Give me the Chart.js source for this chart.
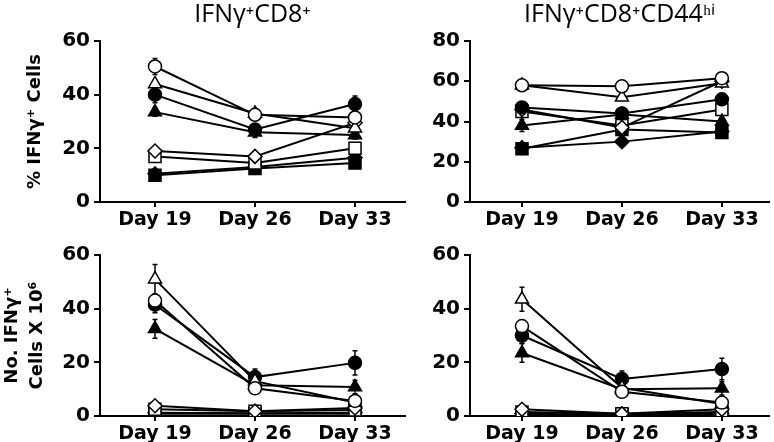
<!DOCTYPE html>
<html>
<head>
<meta charset="utf-8">
<script src="https://cdn.jsdelivr.net/npm/chart.js@4/dist/chart.umd.min.js"></script>
<style>
  body { margin: 0; background: #fff; width: 774px; height: 442px; position: relative; overflow: hidden; }
  canvas { position: absolute; }
</style>
</head>
<body>
<canvas id="pctCd8" width="415" height="230" style="left:0;top:0"></canvas>
<canvas id="pctCd44" width="369" height="230" style="left:410px;top:0"></canvas>
<canvas id="numCd8" width="415" height="212" style="left:0;top:230px"></canvas>
<canvas id="numCd44" width="369" height="212" style="left:410px;top:230px"></canvas>
<script>
const days = ['Day 19', 'Day 26', 'Day 33'];
const dayNumbers = [19, 26, 33];

// series order: open circle, open triangle, filled circle, filled triangle,
// open diamond, open square, filled diamond, filled square
const seriesNames = ['Open circle', 'Open triangle', 'Filled circle', 'Filled triangle',
  'Open diamond', 'Open square', 'Filled diamond', 'Filled square'];

// % IFNg+ of CD8+
const pctCd8Values = [
  [50.5, 32.5, 31.5],
  [44, 33, 27.5],
  [40, 27, 36.5],
  [33.5, 26, 25],
  [19, 17, 29.5],
  [17, 14.5, 20],
  [10.5, 13, 16.5],
  [10, 12.5, 14.5]
];
const pctCd8Errors = [
  [3, 1.5, 1.5], [1, 1.5, 1.5], [3, 1.5, 3], [1.5, 2, 1.5],
  [0.5, 0.5, 1], [0.5, 0.5, 1], [0.5, 0.5, 1], [0.5, 0.5, 1.5]
];

// % IFNg+ of CD8+CD44hi
const pctCd44Values = [
  [58, 57.5, 61.5],
  [58, 52, 59],
  [47, 44, 51],
  [38, 43.5, 40],
  [46, 37, 60],
  [45, 38, 46],
  [27, 30, 35],
  [26.5, 36, 34.5]
];
const pctCd44Errors = [
  [1, 1, 2], [1, 1.5, 1.5], [1, 1, 1.5], [3, 1, 1.5],
  [1, 1, 1], [1, 1, 1], [1, 1, 1], [2, 1, 1.5]
];

// number of IFNg+ CD8+ cells x 10^6
const numCd8Values = [
  [43, 10.3, 5.6],
  [51, 13, 5],
  [41.5, 14.5, 19.8],
  [32.5, 11.5, 10.8],
  [3.8, 1.8, 3],
  [2.5, 1.8, 2.2],
  [1.2, 1, 1.2],
  [0.8, 0.8, 0.8]
];
const numCd8Errors = [
  [2, 1, 1], [5.5, 1, 0.5], [3, 3, 4.5], [3.5, 1, 2.5],
  [0.5, 0.3, 0.5], [0.5, 0.3, 0.5], [0.3, 0.3, 0.3], [0.3, 0.3, 0.3]
];

// number of IFNg+ CD8+CD44hi cells x 10^6
const numCd44Values = [
  [33.5, 9, 5],
  [43.5, 10.5, 4.5],
  [30, 13.8, 17.5],
  [23.5, 10, 10.3],
  [2.5, 0.8, 2.5],
  [1.5, 0.8, 1.5],
  [0.8, 0.5, 0.8],
  [0.5, 0.5, 0.5]
];
const numCd44Errors = [
  [1, 1, 1], [4.5, 1, 0.5], [3, 3, 4], [3.5, 1, 2.5],
  [0.5, 0.3, 0.5], [0.5, 0.3, 0.5], [0.3, 0.3, 0.3], [0.3, 0.3, 0.3]
];

const markerShapes = ['circle', 'triangle', 'circle', 'triangle', 'rectRot', 'rect', 'rectRot', 'rect'];
const markerFilled = [false, false, true, true, false, false, true, true];
const markerSizes = { circle: 6.5, triangle: 7.5, rectRot: 7, rect: 8.5 };

// vertical error bars drawn under the markers
const errorBars = {
  id: 'errorBars',
  beforeDatasetsDraw(chart) {
    const ctx = chart.ctx;
    const yScale = chart.scales.y;
    ctx.save();
    ctx.strokeStyle = '#000';
    ctx.lineWidth = 1.5;
    chart.data.datasets.forEach((ds, i) => {
      chart.getDatasetMeta(i).data.forEach((pt, j) => {
        const e = ds.errors[j];
        if (!e) return;
        const v = ds.data[j].y;
        const top = yScale.getPixelForValue(v + e);
        const bot = yScale.getPixelForValue(Math.max(0, v - e));
        ctx.beginPath();
        ctx.moveTo(pt.x, top);
        ctx.lineTo(pt.x, bot);
        ctx.moveTo(pt.x - 2.5, top);
        ctx.lineTo(pt.x + 2.5, top);
        ctx.moveTo(pt.x - 2.5, bot);
        ctx.lineTo(pt.x + 2.5, bot);
        ctx.stroke();
      });
    });
    ctx.restore();
  }
};

const tickFont = { family: 'DejaVu Sans', weight: 'bold', size: 20 };

function makePanel(id, opts) {
  const datasets = opts.values.map((v, i) => ({
    label: seriesNames[i],
    data: v.map((y, j) => ({ x: dayNumbers[j], y })),
    errors: opts.errors[i],
    borderColor: '#000',
    borderWidth: 2,
    pointStyle: markerShapes[i],
    pointRadius: markerSizes[markerShapes[i]],
    pointBackgroundColor: markerFilled[i] ? '#000' : '#fff',
    pointBorderColor: '#000',
    pointBorderWidth: 1.5,
    tension: 0
  }));

  return new Chart(document.getElementById(id), {
    type: 'line',
    data: { datasets },
    options: {
      responsive: false,
      animation: false,
      layout: { padding: { top: opts.padTop, right: 0, left: 0, bottom: 0 } },
      plugins: {
        legend: { display: false },
        tooltip: { enabled: false },
        title: {
          display: !!opts.title,
          text: opts.title,
          fullSize: false,
          color: '#000',
          font: { family: 'Open Sans', size: 25, weight: 'normal' },
          padding: { top: 0, bottom: 11 }
        }
      },
      scales: {
        x: {
          type: 'linear',
          min: opts.xMin,
          max: opts.xMax,
          afterBuildTicks(scale) { scale.ticks = dayNumbers.map(d => ({ value: d })); },
          grid: { drawOnChartArea: false, color: '#000', lineWidth: 2, tickLength: 5 },
          border: { color: '#000', width: 2 },
          ticks: {
            color: '#000',
            font: { ...tickFont, size: 19 },
            padding: 2,
            maxRotation: 0,
            callback: (value) => days[dayNumbers.indexOf(value)]
          },
          afterFit(scale) { scale.height = opts.xHeight; }
        },
        y: {
          min: 0,
          max: opts.yMax,
          grid: { drawOnChartArea: false, color: '#000', lineWidth: 2, tickLength: 6 },
          border: { color: '#000', width: 2 },
          ticks: { color: '#000', font: tickFont, stepSize: 20, padding: 4 },
          title: {
            display: !!opts.yTitle,
            text: opts.yTitle,
            color: '#000',
            font: { family: 'DejaVu Sans', weight: 'bold', size: 18, lineHeight: 1.4 },
            padding: { top: opts.yTitlePad, bottom: 0 }
          },
          afterFit(scale) { scale.width = opts.axisWidth; }
        }
      }
    },
    plugins: [errorBars]
  });
}

makePanel('pctCd8', {
  title: 'IFNγ⁺CD8⁺', yTitle: '% IFNγ⁺ Cells', yTitlePad: 23, yMax: 60,
  values: pctCd8Values, errors: pctCd8Errors,
  axisWidth: 100, xHeight: 28, padTop: 0, xMin: 15.15, xMax: 36.5
});
makePanel('pctCd44', {
  title: 'IFNγ⁺CD8⁺CD44ʰⁱ', yTitle: '', yTitlePad: 0, yMax: 80,
  values: pctCd44Values, errors: pctCd44Errors,
  axisWidth: 60, xHeight: 28, padTop: 0, xMin: 15.36, xMax: 36.3
});
makePanel('numCd8', {
  title: '', yTitle: ['No. IFNγ⁺', 'Cells X 10⁶'], yTitlePad: 0, yMax: 60,
  values: numCd8Values, errors: numCd8Errors,
  axisWidth: 100, xHeight: 26, padTop: 25, xMin: 15.15, xMax: 36.5
});
makePanel('numCd44', {
  title: '', yTitle: '', yTitlePad: 0, yMax: 60,
  values: numCd44Values, errors: numCd44Errors,
  axisWidth: 60, xHeight: 26, padTop: 25, xMin: 15.36, xMax: 36.3
});
</script>
</body>
</html>
